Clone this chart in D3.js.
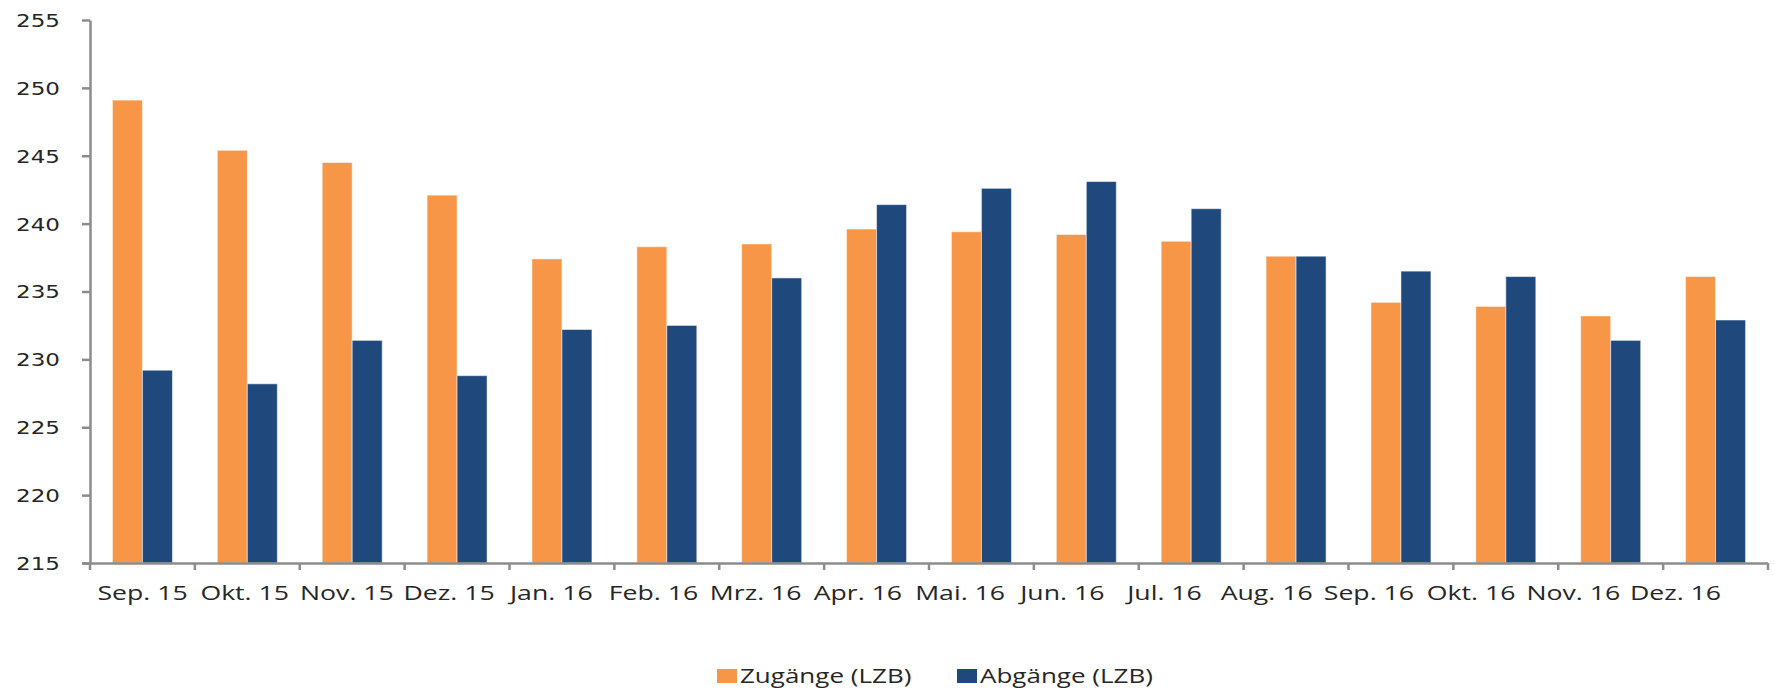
<!DOCTYPE html>
<html>
<head>
<meta charset="utf-8">
<script src="https://cdn.jsdelivr.net/npm/d3@7"></script>
<style>
  html, body { margin: 0; padding: 0; background: #ffffff; }
  svg { display: block; }
</style>
</head>
<body>
<svg id="chart" width="1774" height="690"></svg>
<script>
// ---- data ----
const categories = ["Sep. 15","Okt. 15","Nov. 15","Dez. 15","Jan. 16","Feb. 16","Mrz. 16","Apr. 16",
                    "Mai. 16","Jun. 16","Jul. 16","Aug. 16","Sep. 16","Okt. 16","Nov. 16","Dez. 16"];
const seriesNames = ["Zugänge (LZB)", "Abgänge (LZB)"];
const zugaenge = [249.1, 245.4, 244.5, 242.1, 237.4, 238.3, 238.5, 239.6, 239.4, 239.2, 238.7, 237.6, 234.2, 233.9, 233.2, 236.1];
const abgaenge = [229.2, 228.2, 231.4, 228.8, 232.2, 232.5, 236.0, 241.4, 242.6, 243.1, 241.1, 237.6, 236.5, 236.1, 231.4, 232.9];
const yTicks = [215, 220, 225, 230, 235, 240, 245, 250, 255];
const colors = ["#F79646", "#1F497D"];

(function () {
// ---- layout ----
const svg = d3.select("#chart");
const mLeft = 90, mRight = 1768, mTop = 20, mBottom = 563;
const stretch = 1.3;
const textColor = "#262626";
const axisColor = "#8c8c8c";

const x0 = d3.scaleBand().domain(categories).range([mLeft, mRight]).paddingInner(0.428).paddingOuter(0.214);
const x1 = d3.scaleBand().domain(seriesNames).range([0, x0.bandwidth()]);
const xLabel = d3.scaleBand().domain(categories).range([91.4, 1726.6]);
const y = d3.scaleLinear().domain([215, 255]).range([mBottom, mTop]);

const rows = categories.map((c, i) => ({ cat: c, vals: [zugaenge[i], abgaenge[i]] }));

// bars
const groups = svg.append("g").selectAll("g").data(rows).join("g")
  .attr("transform", d => `translate(${x0(d.cat)},0)`);
groups.selectAll("rect").data(d => d.vals.map((v, k) => ({ k, v }))).join("rect")
  .attr("x", d => x1(seriesNames[d.k]))
  .attr("width", x1.bandwidth())
  .attr("y", d => y(d.v))
  .attr("height", d => y(215) - y(d.v))
  .attr("fill", d => colors[d.k])
  .attr("stroke", "#ffffff")
  .attr("stroke-opacity", 0.5)
  .attr("stroke-width", 1);

// y axis
const yAxis = svg.append("g").attr("transform", `translate(${mLeft},0)`)
  .call(d3.axisLeft(y).tickValues(yTicks).tickSize(8).tickSizeOuter(0).tickFormat(d3.format("d")));
yAxis.select(".domain").attr("stroke", axisColor).attr("stroke-width", 2.5);
yAxis.selectAll(".tick line").attr("stroke", axisColor).attr("stroke-width", 2.5);
yAxis.selectAll(".tick text")
  .attr("font-family", "DejaVu Sans, sans-serif")
  .attr("font-size", 18)
  .attr("fill", textColor)
  .attr("x", -30 / 1.28)
  .attr("dy", "0.36em")
  .attr("transform", "scale(1.28,1)");

// x axis (line + boundary ticks)
const xAxis = svg.append("g").attr("transform", `translate(0,${mBottom})`)
  .call(d3.axisBottom(x0).tickSize(0).tickSizeOuter(0).tickFormat(""));
xAxis.select(".domain").attr("stroke", axisColor).attr("stroke-width", 2.5)
  .attr("d", `M${mLeft - 8},0.5H${mRight}`);
const boundaries = categories.map(c => x0(c) - x0.step() * x0.paddingOuter()).concat([mRight]);
xAxis.selectAll("line.bnd").data(boundaries).join("line").attr("class", "bnd")
  .attr("x1", d => d).attr("x2", d => d).attr("y1", 0).attr("y2", 7)
  .attr("stroke", axisColor).attr("stroke-width", 2.5);

// x labels
const xl = svg.append("g").attr("transform", `translate(0,${mBottom})`)
  .call(d3.axisBottom(xLabel).tickSize(0).tickSizeOuter(0));
xl.select(".domain").remove();
xl.selectAll(".tick text")
  .attr("font-family", "Open Sans, sans-serif")
  .attr("font-size", 20.5)
  .attr("fill", textColor)
  .attr("y", 0)
  .attr("dy", 0)
  .attr("transform", `translate(0,37) scale(${stretch},1)`);

// legend
const legendX = [717, 957];
const legend = svg.append("g");
seriesNames.forEach((name, k) => {
  legend.append("rect").attr("x", legendX[k]).attr("y", 669).attr("width", 20).attr("height", 14)
    .attr("fill", colors[k]);
  legend.append("text")
    .attr("transform", `translate(${legendX[k] + 23},683) scale(${stretch},1)`)
    .attr("font-family", "Open Sans, sans-serif")
    .attr("font-size", 20)
    .attr("fill", textColor)
    .text(name);
});
})();
</script>
</body>
</html>
